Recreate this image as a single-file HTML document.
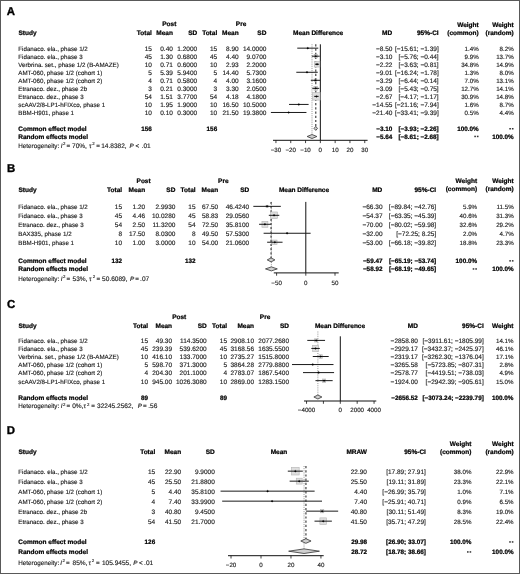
<!DOCTYPE html>
<html><head><meta charset="utf-8"><style>
html,body{margin:0;padding:0;background:#fff;}
body{width:520px;height:574px;overflow:hidden;position:relative;}
svg{position:absolute;left:0;top:0;display:block;will-change:transform;}
svg text{font-family:"Liberation Sans",sans-serif;text-rendering:geometricPrecision;}
</style></head><body>
<svg width="520" height="574" viewBox="0 0 520 574">
<rect x="0.5" y="0.5" width="519" height="573" fill="#fff" stroke="#595959" stroke-width="1"/>
<text x="6.80" y="14.70" text-anchor="start" font-size="11.4" font-weight="bold" fill="#000" stroke="#000" stroke-width="0.35">A</text>
<text x="169.30" y="26.00" text-anchor="middle" font-size="6.5" font-weight="bold" fill="#000" stroke="#000" stroke-width="0.22">Post</text>
<text x="241.10" y="26.00" text-anchor="middle" font-size="6.5" font-weight="bold" fill="#000" stroke="#000" stroke-width="0.22">Pre</text>
<text x="18.50" y="34.80" text-anchor="start" font-size="6.5" font-weight="bold" fill="#000" stroke="#000" stroke-width="0.22">Study</text>
<text x="151.90" y="34.80" text-anchor="end" font-size="6.5" font-weight="bold" fill="#000" stroke="#000" stroke-width="0.22">Total</text>
<text x="172.90" y="34.80" text-anchor="end" font-size="6.5" font-weight="bold" fill="#000" stroke="#000" stroke-width="0.22">Mean</text>
<text x="197.20" y="34.80" text-anchor="end" font-size="6.5" font-weight="bold" fill="#000" stroke="#000" stroke-width="0.22">SD</text>
<text x="217.20" y="34.80" text-anchor="end" font-size="6.5" font-weight="bold" fill="#000" stroke="#000" stroke-width="0.22">Total</text>
<text x="238.70" y="34.80" text-anchor="end" font-size="6.5" font-weight="bold" fill="#000" stroke="#000" stroke-width="0.22">Mean</text>
<text x="266.40" y="34.80" text-anchor="end" font-size="6.5" font-weight="bold" fill="#000" stroke="#000" stroke-width="0.22">SD</text>
<text x="318.10" y="34.80" text-anchor="middle" font-size="6.5" font-weight="bold" fill="#000" stroke="#000" stroke-width="0.22">Mean Difference</text>
<text x="392.20" y="34.80" text-anchor="end" font-size="6.5" font-weight="bold" fill="#000" stroke="#000" stroke-width="0.22">MD</text>
<text x="438.70" y="34.80" text-anchor="end" font-size="6.5" font-weight="bold" fill="#000" stroke="#000" stroke-width="0.22">95%-CI</text>
<text x="478.70" y="26.60" text-anchor="end" font-size="6.5" font-weight="bold" fill="#000" stroke="#000" stroke-width="0.22">Weight</text>
<text x="478.70" y="34.80" text-anchor="end" font-size="6.5" font-weight="bold" fill="#000" stroke="#000" stroke-width="0.22">(common)</text>
<text x="513.70" y="26.60" text-anchor="end" font-size="6.5" font-weight="bold" fill="#000" stroke="#000" stroke-width="0.22">Weight</text>
<text x="513.70" y="34.80" text-anchor="end" font-size="6.5" font-weight="bold" fill="#000" stroke="#000" stroke-width="0.22">(random)</text>
<text x="18.30" y="50.80" text-anchor="start" font-size="6.2" font-weight="normal" fill="#1a1a1a" stroke="#1a1a1a" stroke-width="0.14">Fidanaco. ela., phase 1/2</text>
<text x="151.90" y="50.80" text-anchor="end" font-size="6.5" font-weight="normal" fill="#1a1a1a" stroke="#1a1a1a" stroke-width="0.14">15</text>
<text x="172.90" y="50.80" text-anchor="end" font-size="6.5" font-weight="normal" fill="#1a1a1a" stroke="#1a1a1a" stroke-width="0.14">0.40</text>
<text x="197.20" y="50.80" text-anchor="end" font-size="6.5" font-weight="normal" fill="#1a1a1a" stroke="#1a1a1a" stroke-width="0.14">1.2000</text>
<text x="217.20" y="50.80" text-anchor="end" font-size="6.5" font-weight="normal" fill="#1a1a1a" stroke="#1a1a1a" stroke-width="0.14">15</text>
<text x="238.70" y="50.80" text-anchor="end" font-size="6.5" font-weight="normal" fill="#1a1a1a" stroke="#1a1a1a" stroke-width="0.14">8.90</text>
<text x="266.40" y="50.80" text-anchor="end" font-size="6.5" font-weight="normal" fill="#1a1a1a" stroke="#1a1a1a" stroke-width="0.14">14.0000</text>
<text x="392.40" y="50.80" text-anchor="end" font-size="6.5" font-weight="normal" fill="#1a1a1a" stroke="#1a1a1a" stroke-width="0.14">−8.50</text>
<text x="438.70" y="50.80" text-anchor="end" font-size="6.5" font-weight="normal" fill="#1a1a1a" stroke="#1a1a1a" stroke-width="0.14">[−15.61; −1.39]</text>
<text x="478.70" y="50.80" text-anchor="end" font-size="6.2" font-weight="normal" fill="#1a1a1a" stroke="#1a1a1a" stroke-width="0.14">1.4%</text>
<text x="513.70" y="50.80" text-anchor="end" font-size="6.2" font-weight="normal" fill="#1a1a1a" stroke="#1a1a1a" stroke-width="0.14">8.2%</text>
<text x="18.30" y="58.79" text-anchor="start" font-size="6.2" font-weight="normal" fill="#1a1a1a" stroke="#1a1a1a" stroke-width="0.14">Fidanaco. ela., phase 3</text>
<text x="151.90" y="58.79" text-anchor="end" font-size="6.5" font-weight="normal" fill="#1a1a1a" stroke="#1a1a1a" stroke-width="0.14">45</text>
<text x="172.90" y="58.79" text-anchor="end" font-size="6.5" font-weight="normal" fill="#1a1a1a" stroke="#1a1a1a" stroke-width="0.14">1.30</text>
<text x="197.20" y="58.79" text-anchor="end" font-size="6.5" font-weight="normal" fill="#1a1a1a" stroke="#1a1a1a" stroke-width="0.14">0.6800</text>
<text x="217.20" y="58.79" text-anchor="end" font-size="6.5" font-weight="normal" fill="#1a1a1a" stroke="#1a1a1a" stroke-width="0.14">45</text>
<text x="238.70" y="58.79" text-anchor="end" font-size="6.5" font-weight="normal" fill="#1a1a1a" stroke="#1a1a1a" stroke-width="0.14">4.40</text>
<text x="266.40" y="58.79" text-anchor="end" font-size="6.5" font-weight="normal" fill="#1a1a1a" stroke="#1a1a1a" stroke-width="0.14">9.0700</text>
<text x="392.40" y="58.79" text-anchor="end" font-size="6.5" font-weight="normal" fill="#1a1a1a" stroke="#1a1a1a" stroke-width="0.14">−3.10</text>
<text x="438.70" y="58.79" text-anchor="end" font-size="6.5" font-weight="normal" fill="#1a1a1a" stroke="#1a1a1a" stroke-width="0.14">[−5.76; −0.44]</text>
<text x="478.70" y="58.79" text-anchor="end" font-size="6.2" font-weight="normal" fill="#1a1a1a" stroke="#1a1a1a" stroke-width="0.14">9.9%</text>
<text x="513.70" y="58.79" text-anchor="end" font-size="6.2" font-weight="normal" fill="#1a1a1a" stroke="#1a1a1a" stroke-width="0.14">13.7%</text>
<text x="18.30" y="66.78" text-anchor="start" font-size="6.2" font-weight="normal" fill="#1a1a1a" stroke="#1a1a1a" stroke-width="0.14">Verbrina. set., phase 1/2 (B-AMAZE)</text>
<text x="151.90" y="66.78" text-anchor="end" font-size="6.5" font-weight="normal" fill="#1a1a1a" stroke="#1a1a1a" stroke-width="0.14">10</text>
<text x="172.90" y="66.78" text-anchor="end" font-size="6.5" font-weight="normal" fill="#1a1a1a" stroke="#1a1a1a" stroke-width="0.14">0.71</text>
<text x="197.20" y="66.78" text-anchor="end" font-size="6.5" font-weight="normal" fill="#1a1a1a" stroke="#1a1a1a" stroke-width="0.14">0.6000</text>
<text x="217.20" y="66.78" text-anchor="end" font-size="6.5" font-weight="normal" fill="#1a1a1a" stroke="#1a1a1a" stroke-width="0.14">10</text>
<text x="238.70" y="66.78" text-anchor="end" font-size="6.5" font-weight="normal" fill="#1a1a1a" stroke="#1a1a1a" stroke-width="0.14">2.93</text>
<text x="266.40" y="66.78" text-anchor="end" font-size="6.5" font-weight="normal" fill="#1a1a1a" stroke="#1a1a1a" stroke-width="0.14">2.2000</text>
<text x="392.40" y="66.78" text-anchor="end" font-size="6.5" font-weight="normal" fill="#1a1a1a" stroke="#1a1a1a" stroke-width="0.14">−2.22</text>
<text x="438.70" y="66.78" text-anchor="end" font-size="6.5" font-weight="normal" fill="#1a1a1a" stroke="#1a1a1a" stroke-width="0.14">[−3.63; −0.81]</text>
<text x="478.70" y="66.78" text-anchor="end" font-size="6.2" font-weight="normal" fill="#1a1a1a" stroke="#1a1a1a" stroke-width="0.14">34.8%</text>
<text x="513.70" y="66.78" text-anchor="end" font-size="6.2" font-weight="normal" fill="#1a1a1a" stroke="#1a1a1a" stroke-width="0.14">14.9%</text>
<text x="18.30" y="74.77" text-anchor="start" font-size="6.2" font-weight="normal" fill="#1a1a1a" stroke="#1a1a1a" stroke-width="0.14">AMT-060, phase 1/2 (cohort 1)</text>
<text x="151.90" y="74.77" text-anchor="end" font-size="6.5" font-weight="normal" fill="#1a1a1a" stroke="#1a1a1a" stroke-width="0.14">5</text>
<text x="172.90" y="74.77" text-anchor="end" font-size="6.5" font-weight="normal" fill="#1a1a1a" stroke="#1a1a1a" stroke-width="0.14">5.39</text>
<text x="197.20" y="74.77" text-anchor="end" font-size="6.5" font-weight="normal" fill="#1a1a1a" stroke="#1a1a1a" stroke-width="0.14">5.9400</text>
<text x="217.20" y="74.77" text-anchor="end" font-size="6.5" font-weight="normal" fill="#1a1a1a" stroke="#1a1a1a" stroke-width="0.14">5</text>
<text x="238.70" y="74.77" text-anchor="end" font-size="6.5" font-weight="normal" fill="#1a1a1a" stroke="#1a1a1a" stroke-width="0.14">14.40</text>
<text x="266.40" y="74.77" text-anchor="end" font-size="6.5" font-weight="normal" fill="#1a1a1a" stroke="#1a1a1a" stroke-width="0.14">5.7300</text>
<text x="392.40" y="74.77" text-anchor="end" font-size="6.5" font-weight="normal" fill="#1a1a1a" stroke="#1a1a1a" stroke-width="0.14">−9.01</text>
<text x="438.70" y="74.77" text-anchor="end" font-size="6.5" font-weight="normal" fill="#1a1a1a" stroke="#1a1a1a" stroke-width="0.14">[−16.24; −1.78]</text>
<text x="478.70" y="74.77" text-anchor="end" font-size="6.2" font-weight="normal" fill="#1a1a1a" stroke="#1a1a1a" stroke-width="0.14">1.3%</text>
<text x="513.70" y="74.77" text-anchor="end" font-size="6.2" font-weight="normal" fill="#1a1a1a" stroke="#1a1a1a" stroke-width="0.14">8.0%</text>
<text x="18.30" y="82.76" text-anchor="start" font-size="6.2" font-weight="normal" fill="#1a1a1a" stroke="#1a1a1a" stroke-width="0.14">AMT-060, phase 1/2 (cohort 2)</text>
<text x="151.90" y="82.76" text-anchor="end" font-size="6.5" font-weight="normal" fill="#1a1a1a" stroke="#1a1a1a" stroke-width="0.14">4</text>
<text x="172.90" y="82.76" text-anchor="end" font-size="6.5" font-weight="normal" fill="#1a1a1a" stroke="#1a1a1a" stroke-width="0.14">0.71</text>
<text x="197.20" y="82.76" text-anchor="end" font-size="6.5" font-weight="normal" fill="#1a1a1a" stroke="#1a1a1a" stroke-width="0.14">0.5800</text>
<text x="217.20" y="82.76" text-anchor="end" font-size="6.5" font-weight="normal" fill="#1a1a1a" stroke="#1a1a1a" stroke-width="0.14">4</text>
<text x="238.70" y="82.76" text-anchor="end" font-size="6.5" font-weight="normal" fill="#1a1a1a" stroke="#1a1a1a" stroke-width="0.14">4.00</text>
<text x="266.40" y="82.76" text-anchor="end" font-size="6.5" font-weight="normal" fill="#1a1a1a" stroke="#1a1a1a" stroke-width="0.14">3.1600</text>
<text x="392.40" y="82.76" text-anchor="end" font-size="6.5" font-weight="normal" fill="#1a1a1a" stroke="#1a1a1a" stroke-width="0.14">−3.29</text>
<text x="438.70" y="82.76" text-anchor="end" font-size="6.5" font-weight="normal" fill="#1a1a1a" stroke="#1a1a1a" stroke-width="0.14">[−6.44; −0.14]</text>
<text x="478.70" y="82.76" text-anchor="end" font-size="6.2" font-weight="normal" fill="#1a1a1a" stroke="#1a1a1a" stroke-width="0.14">7.0%</text>
<text x="513.70" y="82.76" text-anchor="end" font-size="6.2" font-weight="normal" fill="#1a1a1a" stroke="#1a1a1a" stroke-width="0.14">13.1%</text>
<text x="18.30" y="90.75" text-anchor="start" font-size="6.2" font-weight="normal" fill="#1a1a1a" stroke="#1a1a1a" stroke-width="0.14">Etranaco. dez., phase 2b</text>
<text x="151.90" y="90.75" text-anchor="end" font-size="6.5" font-weight="normal" fill="#1a1a1a" stroke="#1a1a1a" stroke-width="0.14">3</text>
<text x="172.90" y="90.75" text-anchor="end" font-size="6.5" font-weight="normal" fill="#1a1a1a" stroke="#1a1a1a" stroke-width="0.14">0.21</text>
<text x="197.20" y="90.75" text-anchor="end" font-size="6.5" font-weight="normal" fill="#1a1a1a" stroke="#1a1a1a" stroke-width="0.14">0.3000</text>
<text x="217.20" y="90.75" text-anchor="end" font-size="6.5" font-weight="normal" fill="#1a1a1a" stroke="#1a1a1a" stroke-width="0.14">3</text>
<text x="238.70" y="90.75" text-anchor="end" font-size="6.5" font-weight="normal" fill="#1a1a1a" stroke="#1a1a1a" stroke-width="0.14">3.30</text>
<text x="266.40" y="90.75" text-anchor="end" font-size="6.5" font-weight="normal" fill="#1a1a1a" stroke="#1a1a1a" stroke-width="0.14">2.0500</text>
<text x="392.40" y="90.75" text-anchor="end" font-size="6.5" font-weight="normal" fill="#1a1a1a" stroke="#1a1a1a" stroke-width="0.14">−3.09</text>
<text x="438.70" y="90.75" text-anchor="end" font-size="6.5" font-weight="normal" fill="#1a1a1a" stroke="#1a1a1a" stroke-width="0.14">[−5.43; −0.75]</text>
<text x="478.70" y="90.75" text-anchor="end" font-size="6.2" font-weight="normal" fill="#1a1a1a" stroke="#1a1a1a" stroke-width="0.14">12.7%</text>
<text x="513.70" y="90.75" text-anchor="end" font-size="6.2" font-weight="normal" fill="#1a1a1a" stroke="#1a1a1a" stroke-width="0.14">14.1%</text>
<text x="18.30" y="98.74" text-anchor="start" font-size="6.2" font-weight="normal" fill="#1a1a1a" stroke="#1a1a1a" stroke-width="0.14">Etranaco. dez., phase 3</text>
<text x="151.90" y="98.74" text-anchor="end" font-size="6.5" font-weight="normal" fill="#1a1a1a" stroke="#1a1a1a" stroke-width="0.14">54</text>
<text x="172.90" y="98.74" text-anchor="end" font-size="6.5" font-weight="normal" fill="#1a1a1a" stroke="#1a1a1a" stroke-width="0.14">1.51</text>
<text x="197.20" y="98.74" text-anchor="end" font-size="6.5" font-weight="normal" fill="#1a1a1a" stroke="#1a1a1a" stroke-width="0.14">3.7700</text>
<text x="217.20" y="98.74" text-anchor="end" font-size="6.5" font-weight="normal" fill="#1a1a1a" stroke="#1a1a1a" stroke-width="0.14">54</text>
<text x="238.70" y="98.74" text-anchor="end" font-size="6.5" font-weight="normal" fill="#1a1a1a" stroke="#1a1a1a" stroke-width="0.14">4.18</text>
<text x="266.40" y="98.74" text-anchor="end" font-size="6.5" font-weight="normal" fill="#1a1a1a" stroke="#1a1a1a" stroke-width="0.14">4.1800</text>
<text x="392.40" y="98.74" text-anchor="end" font-size="6.5" font-weight="normal" fill="#1a1a1a" stroke="#1a1a1a" stroke-width="0.14">−2.67</text>
<text x="438.70" y="98.74" text-anchor="end" font-size="6.5" font-weight="normal" fill="#1a1a1a" stroke="#1a1a1a" stroke-width="0.14">[−4.17; −1.17]</text>
<text x="478.70" y="98.74" text-anchor="end" font-size="6.2" font-weight="normal" fill="#1a1a1a" stroke="#1a1a1a" stroke-width="0.14">30.9%</text>
<text x="513.70" y="98.74" text-anchor="end" font-size="6.2" font-weight="normal" fill="#1a1a1a" stroke="#1a1a1a" stroke-width="0.14">14.8%</text>
<text x="18.30" y="106.73" text-anchor="start" font-size="6.2" font-weight="normal" fill="#1a1a1a" stroke="#1a1a1a" stroke-width="0.14">scAAV2/8-LP1-hFIXco, phase 1</text>
<text x="151.90" y="106.73" text-anchor="end" font-size="6.5" font-weight="normal" fill="#1a1a1a" stroke="#1a1a1a" stroke-width="0.14">10</text>
<text x="172.90" y="106.73" text-anchor="end" font-size="6.5" font-weight="normal" fill="#1a1a1a" stroke="#1a1a1a" stroke-width="0.14">1.95</text>
<text x="197.20" y="106.73" text-anchor="end" font-size="6.5" font-weight="normal" fill="#1a1a1a" stroke="#1a1a1a" stroke-width="0.14">1.9000</text>
<text x="217.20" y="106.73" text-anchor="end" font-size="6.5" font-weight="normal" fill="#1a1a1a" stroke="#1a1a1a" stroke-width="0.14">10</text>
<text x="238.70" y="106.73" text-anchor="end" font-size="6.5" font-weight="normal" fill="#1a1a1a" stroke="#1a1a1a" stroke-width="0.14">16.50</text>
<text x="266.40" y="106.73" text-anchor="end" font-size="6.5" font-weight="normal" fill="#1a1a1a" stroke="#1a1a1a" stroke-width="0.14">10.5000</text>
<text x="392.40" y="106.73" text-anchor="end" font-size="6.5" font-weight="normal" fill="#1a1a1a" stroke="#1a1a1a" stroke-width="0.14">−14.55</text>
<text x="438.70" y="106.73" text-anchor="end" font-size="6.5" font-weight="normal" fill="#1a1a1a" stroke="#1a1a1a" stroke-width="0.14">[−21.16; −7.94]</text>
<text x="478.70" y="106.73" text-anchor="end" font-size="6.2" font-weight="normal" fill="#1a1a1a" stroke="#1a1a1a" stroke-width="0.14">1.6%</text>
<text x="513.70" y="106.73" text-anchor="end" font-size="6.2" font-weight="normal" fill="#1a1a1a" stroke="#1a1a1a" stroke-width="0.14">8.7%</text>
<text x="18.30" y="114.72" text-anchor="start" font-size="6.2" font-weight="normal" fill="#1a1a1a" stroke="#1a1a1a" stroke-width="0.14">BBM-H901, phase 1</text>
<text x="151.90" y="114.72" text-anchor="end" font-size="6.5" font-weight="normal" fill="#1a1a1a" stroke="#1a1a1a" stroke-width="0.14">10</text>
<text x="172.90" y="114.72" text-anchor="end" font-size="6.5" font-weight="normal" fill="#1a1a1a" stroke="#1a1a1a" stroke-width="0.14">0.10</text>
<text x="197.20" y="114.72" text-anchor="end" font-size="6.5" font-weight="normal" fill="#1a1a1a" stroke="#1a1a1a" stroke-width="0.14">0.3000</text>
<text x="217.20" y="114.72" text-anchor="end" font-size="6.5" font-weight="normal" fill="#1a1a1a" stroke="#1a1a1a" stroke-width="0.14">10</text>
<text x="238.70" y="114.72" text-anchor="end" font-size="6.5" font-weight="normal" fill="#1a1a1a" stroke="#1a1a1a" stroke-width="0.14">21.50</text>
<text x="266.40" y="114.72" text-anchor="end" font-size="6.5" font-weight="normal" fill="#1a1a1a" stroke="#1a1a1a" stroke-width="0.14">19.3800</text>
<text x="392.40" y="114.72" text-anchor="end" font-size="6.5" font-weight="normal" fill="#1a1a1a" stroke="#1a1a1a" stroke-width="0.14">−21.40</text>
<text x="438.70" y="114.72" text-anchor="end" font-size="6.5" font-weight="normal" fill="#1a1a1a" stroke="#1a1a1a" stroke-width="0.14">[−33.41; −9.39]</text>
<text x="478.70" y="114.72" text-anchor="end" font-size="6.2" font-weight="normal" fill="#1a1a1a" stroke="#1a1a1a" stroke-width="0.14">0.5%</text>
<text x="513.70" y="114.72" text-anchor="end" font-size="6.2" font-weight="normal" fill="#1a1a1a" stroke="#1a1a1a" stroke-width="0.14">4.4%</text>
<text x="18.30" y="130.80" text-anchor="start" font-size="6.5" font-weight="bold" fill="#000" stroke="#000" stroke-width="0.22">Common effect model</text>
<text x="151.90" y="130.80" text-anchor="end" font-size="6.35" font-weight="bold" fill="#000" stroke="#000" stroke-width="0.22">156</text>
<text x="217.20" y="130.80" text-anchor="end" font-size="6.35" font-weight="bold" fill="#000" stroke="#000" stroke-width="0.22">156</text>
<text x="392.40" y="130.80" text-anchor="end" font-size="6.35" font-weight="bold" fill="#000" stroke="#000" stroke-width="0.22">−3.10</text>
<text x="438.70" y="130.80" text-anchor="end" font-size="6.35" font-weight="bold" fill="#000" stroke="#000" stroke-width="0.22">[−3.93; −2.26]</text>
<text x="478.70" y="130.80" text-anchor="end" font-size="6.35" font-weight="bold" fill="#000" stroke="#000" stroke-width="0.22">100.0%</text>
<rect x="509.30" y="128.00" width="1.6" height="1.5" fill="#333"/>
<rect x="511.90" y="128.00" width="1.6" height="1.5" fill="#333"/>
<text x="18.30" y="138.50" text-anchor="start" font-size="6.5" font-weight="bold" fill="#000" stroke="#000" stroke-width="0.22">Random effects model</text>
<text x="392.40" y="138.50" text-anchor="end" font-size="6.35" font-weight="bold" fill="#000" stroke="#000" stroke-width="0.22">−5.64</text>
<text x="438.70" y="138.50" text-anchor="end" font-size="6.35" font-weight="bold" fill="#000" stroke="#000" stroke-width="0.22">[−8.61; −2.68]</text>
<rect x="474.30" y="135.70" width="1.6" height="1.5" fill="#333"/>
<rect x="476.90" y="135.70" width="1.6" height="1.5" fill="#333"/>
<text x="513.70" y="138.50" text-anchor="end" font-size="6.35" font-weight="bold" fill="#000" stroke="#000" stroke-width="0.22">100.0%</text>
<text x="18.30" y="147.60" font-size="6.3" fill="#1a1a1a" stroke="#1a1a1a" stroke-width="0.14">Heterogeneity:</text>
<text x="60.80" y="147.60" font-size="6.3" fill="#1a1a1a" stroke="#1a1a1a" stroke-width="0.14" font-style="italic">I</text>
<text x="63.00" y="145.10" font-size="4.3" fill="#1a1a1a" stroke="#1a1a1a" stroke-width="0.14">2</text>
<text x="66.50" y="147.60" font-size="6.3" fill="#1a1a1a" stroke="#1a1a1a" stroke-width="0.14">=</text>
<text x="72.00" y="147.60" font-size="6.55" fill="#1a1a1a" stroke="#1a1a1a" stroke-width="0.14">70%,</text>
<text x="89.00" y="147.60" font-size="6.3" fill="#1a1a1a" stroke="#1a1a1a" stroke-width="0.14">τ</text>
<text x="92.30" y="145.10" font-size="4.3" fill="#1a1a1a" stroke="#1a1a1a" stroke-width="0.14">2</text>
<text x="96.20" y="147.60" font-size="6.3" fill="#1a1a1a" stroke="#1a1a1a" stroke-width="0.14">=</text>
<text x="101.20" y="147.60" font-size="6.55" fill="#1a1a1a" stroke="#1a1a1a" stroke-width="0.14">14.8382,</text>
<text x="129.60" y="147.60" font-size="6.3" fill="#1a1a1a" stroke="#1a1a1a" stroke-width="0.14" font-style="italic">P</text>
<text x="135.60" y="147.60" font-size="6.3" fill="#1a1a1a" stroke="#1a1a1a" stroke-width="0.14">&lt;</text>
<text x="141.60" y="147.60" font-size="6.55" fill="#1a1a1a" stroke="#1a1a1a" stroke-width="0.14">.01</text>
<line x1="320.35" y1="44.30" x2="320.35" y2="140.30" stroke="#111" stroke-width="1.0"/>
<line x1="312.00" y1="44.30" x2="312.00" y2="134.50" stroke="#8a8a8a" stroke-width="0.9" stroke-dasharray="1 1.15"/>
<line x1="315.76" y1="44.30" x2="315.76" y2="126.60" stroke="#4a4a4a" stroke-width="1.25" stroke-dasharray="2.2 2.0"/>
<rect x="307.35" y="47.73" width="0.84" height="0.84" fill="#dedede" stroke="#b4b4b4" stroke-width="0.6"/>
<line x1="297.25" y1="48.15" x2="318.29" y2="48.15" stroke="#1a1a1a" stroke-width="1.0"/>
<polygon points="306.67,48.15 307.77,47.15 308.87,48.15 307.77,49.15" fill="#000" stroke="#000" stroke-width="0.2"/>
<rect x="314.14" y="54.57" width="3.24" height="3.24" fill="#dedede" stroke="#b4b4b4" stroke-width="0.6"/>
<line x1="311.83" y1="56.19" x2="319.70" y2="56.19" stroke="#1a1a1a" stroke-width="1.0"/>
<polygon points="314.66,56.19 315.76,55.19 316.86,56.19 315.76,57.19" fill="#000" stroke="#000" stroke-width="0.2"/>
<rect x="314.26" y="61.43" width="5.60" height="5.60" fill="#dedede" stroke="#b4b4b4" stroke-width="0.6"/>
<line x1="314.98" y1="64.23" x2="319.15" y2="64.23" stroke="#1a1a1a" stroke-width="1.0"/>
<polygon points="315.96,64.23 317.06,63.23 318.16,64.23 317.06,65.23" fill="#000" stroke="#000" stroke-width="0.2"/>
<rect x="306.62" y="71.87" width="0.79" height="0.79" fill="#dedede" stroke="#b4b4b4" stroke-width="0.6"/>
<line x1="296.31" y1="72.27" x2="317.72" y2="72.27" stroke="#1a1a1a" stroke-width="1.0"/>
<polygon points="305.92,72.27 307.02,71.27 308.12,72.27 307.02,73.27" fill="#000" stroke="#000" stroke-width="0.2"/>
<rect x="314.17" y="79.00" width="2.63" height="2.63" fill="#dedede" stroke="#b4b4b4" stroke-width="0.6"/>
<line x1="310.82" y1="80.31" x2="320.14" y2="80.31" stroke="#1a1a1a" stroke-width="1.0"/>
<polygon points="314.38,80.31 315.48,79.31 316.58,80.31 315.48,81.31" fill="#000" stroke="#000" stroke-width="0.2"/>
<rect x="313.90" y="86.48" width="3.75" height="3.75" fill="#dedede" stroke="#b4b4b4" stroke-width="0.6"/>
<line x1="312.31" y1="88.35" x2="319.24" y2="88.35" stroke="#1a1a1a" stroke-width="1.0"/>
<polygon points="314.68,88.35 315.78,87.35 316.88,88.35 315.78,89.35" fill="#000" stroke="#000" stroke-width="0.2"/>
<rect x="312.70" y="92.69" width="7.40" height="7.40" fill="#dedede" stroke="#b4b4b4" stroke-width="0.6"/>
<line x1="314.18" y1="96.39" x2="318.62" y2="96.39" stroke="#1a1a1a" stroke-width="1.0"/>
<polygon points="315.30,96.39 316.40,95.39 317.50,96.39 316.40,97.39" fill="#000" stroke="#000" stroke-width="0.2"/>
<rect x="298.34" y="103.96" width="0.94" height="0.94" fill="#dedede" stroke="#b4b4b4" stroke-width="0.6"/>
<line x1="289.03" y1="104.43" x2="308.60" y2="104.43" stroke="#1a1a1a" stroke-width="1.0"/>
<polygon points="297.72,104.43 298.82,103.43 299.92,104.43 298.82,105.43" fill="#000" stroke="#000" stroke-width="0.2"/>
<rect x="288.55" y="112.34" width="0.26" height="0.26" fill="#dedede" stroke="#b4b4b4" stroke-width="0.6"/>
<line x1="270.90" y1="112.47" x2="306.45" y2="112.47" stroke="#1a1a1a" stroke-width="1.0"/>
<polygon points="287.58,112.47 288.68,111.47 289.78,112.47 288.68,113.47" fill="#000" stroke="#000" stroke-width="0.2"/>
<polygon points="314.03,128.40 315.76,126.40 317.51,128.40 315.76,130.40" fill="#d0d0d0" stroke="#333" stroke-width="0.8"/>
<polygon points="307.11,136.50 312.00,134.50 316.88,136.50 312.00,138.50" fill="#d0d0d0" stroke="#333" stroke-width="0.8"/>
<line x1="273.00" y1="140.30" x2="367.60" y2="140.30" stroke="#111" stroke-width="1.0"/>
<line x1="275.95" y1="140.30" x2="275.95" y2="143.10" stroke="#111" stroke-width="0.8"/>
<text x="275.95" y="151.70" text-anchor="middle" font-size="6.2" font-weight="normal" fill="#1a1a1a" stroke="#1a1a1a" stroke-width="0.14">−30</text>
<line x1="290.75" y1="140.30" x2="290.75" y2="143.10" stroke="#111" stroke-width="0.8"/>
<text x="290.75" y="151.70" text-anchor="middle" font-size="6.2" font-weight="normal" fill="#1a1a1a" stroke="#1a1a1a" stroke-width="0.14">−20</text>
<line x1="305.55" y1="140.30" x2="305.55" y2="143.10" stroke="#111" stroke-width="0.8"/>
<text x="305.55" y="151.70" text-anchor="middle" font-size="6.2" font-weight="normal" fill="#1a1a1a" stroke="#1a1a1a" stroke-width="0.14">−10</text>
<line x1="320.35" y1="140.30" x2="320.35" y2="143.10" stroke="#111" stroke-width="0.8"/>
<text x="320.35" y="151.70" text-anchor="middle" font-size="6.2" font-weight="normal" fill="#1a1a1a" stroke="#1a1a1a" stroke-width="0.14">0</text>
<line x1="335.15" y1="140.30" x2="335.15" y2="143.10" stroke="#111" stroke-width="0.8"/>
<text x="335.15" y="151.70" text-anchor="middle" font-size="6.2" font-weight="normal" fill="#1a1a1a" stroke="#1a1a1a" stroke-width="0.14">10</text>
<line x1="349.95" y1="140.30" x2="349.95" y2="143.10" stroke="#111" stroke-width="0.8"/>
<text x="349.95" y="151.70" text-anchor="middle" font-size="6.2" font-weight="normal" fill="#1a1a1a" stroke="#1a1a1a" stroke-width="0.14">20</text>
<line x1="364.75" y1="140.30" x2="364.75" y2="143.10" stroke="#111" stroke-width="0.8"/>
<text x="364.75" y="151.70" text-anchor="middle" font-size="6.2" font-weight="normal" fill="#1a1a1a" stroke="#1a1a1a" stroke-width="0.14">30</text>
<text x="7.00" y="171.90" text-anchor="start" font-size="11.4" font-weight="bold" fill="#000" stroke="#000" stroke-width="0.35">B</text>
<text x="143.60" y="182.90" text-anchor="middle" font-size="6.5" font-weight="bold" fill="#000" stroke="#000" stroke-width="0.22">Post</text>
<text x="223.30" y="182.90" text-anchor="middle" font-size="6.5" font-weight="bold" fill="#000" stroke="#000" stroke-width="0.22">Pre</text>
<text x="18.50" y="191.60" text-anchor="start" font-size="6.5" font-weight="bold" fill="#000" stroke="#000" stroke-width="0.22">Study</text>
<text x="122.10" y="191.60" text-anchor="end" font-size="6.5" font-weight="bold" fill="#000" stroke="#000" stroke-width="0.22">Total</text>
<text x="145.20" y="191.60" text-anchor="end" font-size="6.5" font-weight="bold" fill="#000" stroke="#000" stroke-width="0.22">Mean</text>
<text x="175.40" y="191.60" text-anchor="end" font-size="6.5" font-weight="bold" fill="#000" stroke="#000" stroke-width="0.22">SD</text>
<text x="195.60" y="191.60" text-anchor="end" font-size="6.5" font-weight="bold" fill="#000" stroke="#000" stroke-width="0.22">Total</text>
<text x="218.20" y="191.60" text-anchor="end" font-size="6.5" font-weight="bold" fill="#000" stroke="#000" stroke-width="0.22">Mean</text>
<text x="249.20" y="191.60" text-anchor="end" font-size="6.5" font-weight="bold" fill="#000" stroke="#000" stroke-width="0.22">SD</text>
<text x="304.00" y="191.60" text-anchor="middle" font-size="6.5" font-weight="bold" fill="#000" stroke="#000" stroke-width="0.22">Mean Difference</text>
<text x="382.30" y="191.60" text-anchor="end" font-size="6.5" font-weight="bold" fill="#000" stroke="#000" stroke-width="0.22">MD</text>
<text x="436.20" y="191.60" text-anchor="end" font-size="6.5" font-weight="bold" fill="#000" stroke="#000" stroke-width="0.22">95%-CI</text>
<text x="477.10" y="183.40" text-anchor="end" font-size="6.5" font-weight="bold" fill="#000" stroke="#000" stroke-width="0.22">Weight</text>
<text x="477.10" y="191.40" text-anchor="end" font-size="6.5" font-weight="bold" fill="#000" stroke="#000" stroke-width="0.22">(common)</text>
<text x="513.70" y="183.40" text-anchor="end" font-size="6.5" font-weight="bold" fill="#000" stroke="#000" stroke-width="0.22">Weight</text>
<text x="513.70" y="191.40" text-anchor="end" font-size="6.5" font-weight="bold" fill="#000" stroke="#000" stroke-width="0.22">(random)</text>
<text x="18.30" y="209.00" text-anchor="start" font-size="6.2" font-weight="normal" fill="#1a1a1a" stroke="#1a1a1a" stroke-width="0.14">Fidanaco. ela., phase 1/2</text>
<text x="122.10" y="209.00" text-anchor="end" font-size="6.5" font-weight="normal" fill="#1a1a1a" stroke="#1a1a1a" stroke-width="0.14">15</text>
<text x="145.20" y="209.00" text-anchor="end" font-size="6.5" font-weight="normal" fill="#1a1a1a" stroke="#1a1a1a" stroke-width="0.14">1.20</text>
<text x="175.40" y="209.00" text-anchor="end" font-size="6.5" font-weight="normal" fill="#1a1a1a" stroke="#1a1a1a" stroke-width="0.14">2.9930</text>
<text x="195.60" y="209.00" text-anchor="end" font-size="6.5" font-weight="normal" fill="#1a1a1a" stroke="#1a1a1a" stroke-width="0.14">15</text>
<text x="218.20" y="209.00" text-anchor="end" font-size="6.5" font-weight="normal" fill="#1a1a1a" stroke="#1a1a1a" stroke-width="0.14">67.50</text>
<text x="249.20" y="209.00" text-anchor="end" font-size="6.5" font-weight="normal" fill="#1a1a1a" stroke="#1a1a1a" stroke-width="0.14">46.4240</text>
<text x="382.50" y="209.00" text-anchor="end" font-size="6.5" font-weight="normal" fill="#1a1a1a" stroke="#1a1a1a" stroke-width="0.14">−66.30</text>
<text x="436.20" y="209.00" text-anchor="end" font-size="6.5" font-weight="normal" fill="#1a1a1a" stroke="#1a1a1a" stroke-width="0.14">[−89.84; −42.76]</text>
<text x="477.10" y="209.00" text-anchor="end" font-size="6.2" font-weight="normal" fill="#1a1a1a" stroke="#1a1a1a" stroke-width="0.14">5.9%</text>
<text x="513.70" y="209.00" text-anchor="end" font-size="6.2" font-weight="normal" fill="#1a1a1a" stroke="#1a1a1a" stroke-width="0.14">11.5%</text>
<text x="18.30" y="217.97" text-anchor="start" font-size="6.2" font-weight="normal" fill="#1a1a1a" stroke="#1a1a1a" stroke-width="0.14">Fidanaco. ela., phase 3</text>
<text x="122.10" y="217.97" text-anchor="end" font-size="6.5" font-weight="normal" fill="#1a1a1a" stroke="#1a1a1a" stroke-width="0.14">45</text>
<text x="145.20" y="217.97" text-anchor="end" font-size="6.5" font-weight="normal" fill="#1a1a1a" stroke="#1a1a1a" stroke-width="0.14">4.46</text>
<text x="175.40" y="217.97" text-anchor="end" font-size="6.5" font-weight="normal" fill="#1a1a1a" stroke="#1a1a1a" stroke-width="0.14">10.0280</text>
<text x="195.60" y="217.97" text-anchor="end" font-size="6.5" font-weight="normal" fill="#1a1a1a" stroke="#1a1a1a" stroke-width="0.14">45</text>
<text x="218.20" y="217.97" text-anchor="end" font-size="6.5" font-weight="normal" fill="#1a1a1a" stroke="#1a1a1a" stroke-width="0.14">58.83</text>
<text x="249.20" y="217.97" text-anchor="end" font-size="6.5" font-weight="normal" fill="#1a1a1a" stroke="#1a1a1a" stroke-width="0.14">29.0560</text>
<text x="382.50" y="217.97" text-anchor="end" font-size="6.5" font-weight="normal" fill="#1a1a1a" stroke="#1a1a1a" stroke-width="0.14">−54.37</text>
<text x="436.20" y="217.97" text-anchor="end" font-size="6.5" font-weight="normal" fill="#1a1a1a" stroke="#1a1a1a" stroke-width="0.14">[−63.35; −45.39]</text>
<text x="477.10" y="217.97" text-anchor="end" font-size="6.2" font-weight="normal" fill="#1a1a1a" stroke="#1a1a1a" stroke-width="0.14">40.6%</text>
<text x="513.70" y="217.97" text-anchor="end" font-size="6.2" font-weight="normal" fill="#1a1a1a" stroke="#1a1a1a" stroke-width="0.14">31.3%</text>
<text x="18.30" y="226.94" text-anchor="start" font-size="6.2" font-weight="normal" fill="#1a1a1a" stroke="#1a1a1a" stroke-width="0.14">Etranaco. dez., phase 3</text>
<text x="122.10" y="226.94" text-anchor="end" font-size="6.5" font-weight="normal" fill="#1a1a1a" stroke="#1a1a1a" stroke-width="0.14">54</text>
<text x="145.20" y="226.94" text-anchor="end" font-size="6.5" font-weight="normal" fill="#1a1a1a" stroke="#1a1a1a" stroke-width="0.14">2.50</text>
<text x="175.40" y="226.94" text-anchor="end" font-size="6.5" font-weight="normal" fill="#1a1a1a" stroke="#1a1a1a" stroke-width="0.14">11.3200</text>
<text x="195.60" y="226.94" text-anchor="end" font-size="6.5" font-weight="normal" fill="#1a1a1a" stroke="#1a1a1a" stroke-width="0.14">54</text>
<text x="218.20" y="226.94" text-anchor="end" font-size="6.5" font-weight="normal" fill="#1a1a1a" stroke="#1a1a1a" stroke-width="0.14">72.50</text>
<text x="249.20" y="226.94" text-anchor="end" font-size="6.5" font-weight="normal" fill="#1a1a1a" stroke="#1a1a1a" stroke-width="0.14">35.8100</text>
<text x="382.50" y="226.94" text-anchor="end" font-size="6.5" font-weight="normal" fill="#1a1a1a" stroke="#1a1a1a" stroke-width="0.14">−70.00</text>
<text x="436.20" y="226.94" text-anchor="end" font-size="6.5" font-weight="normal" fill="#1a1a1a" stroke="#1a1a1a" stroke-width="0.14">[−80.02; −59.98]</text>
<text x="477.10" y="226.94" text-anchor="end" font-size="6.2" font-weight="normal" fill="#1a1a1a" stroke="#1a1a1a" stroke-width="0.14">32.6%</text>
<text x="513.70" y="226.94" text-anchor="end" font-size="6.2" font-weight="normal" fill="#1a1a1a" stroke="#1a1a1a" stroke-width="0.14">29.2%</text>
<text x="18.30" y="235.91" text-anchor="start" font-size="6.2" font-weight="normal" fill="#1a1a1a" stroke="#1a1a1a" stroke-width="0.14">BAX335, phase 1/2</text>
<text x="122.10" y="235.91" text-anchor="end" font-size="6.5" font-weight="normal" fill="#1a1a1a" stroke="#1a1a1a" stroke-width="0.14">8</text>
<text x="145.20" y="235.91" text-anchor="end" font-size="6.5" font-weight="normal" fill="#1a1a1a" stroke="#1a1a1a" stroke-width="0.14">17.50</text>
<text x="175.40" y="235.91" text-anchor="end" font-size="6.5" font-weight="normal" fill="#1a1a1a" stroke="#1a1a1a" stroke-width="0.14">8.0300</text>
<text x="195.60" y="235.91" text-anchor="end" font-size="6.5" font-weight="normal" fill="#1a1a1a" stroke="#1a1a1a" stroke-width="0.14">8</text>
<text x="218.20" y="235.91" text-anchor="end" font-size="6.5" font-weight="normal" fill="#1a1a1a" stroke="#1a1a1a" stroke-width="0.14">49.50</text>
<text x="249.20" y="235.91" text-anchor="end" font-size="6.5" font-weight="normal" fill="#1a1a1a" stroke="#1a1a1a" stroke-width="0.14">57.5300</text>
<text x="382.50" y="235.91" text-anchor="end" font-size="6.5" font-weight="normal" fill="#1a1a1a" stroke="#1a1a1a" stroke-width="0.14">−32.00</text>
<text x="436.20" y="235.91" text-anchor="end" font-size="6.5" font-weight="normal" fill="#1a1a1a" stroke="#1a1a1a" stroke-width="0.14">[−72.25; 8.25]</text>
<text x="477.10" y="235.91" text-anchor="end" font-size="6.2" font-weight="normal" fill="#1a1a1a" stroke="#1a1a1a" stroke-width="0.14">2.0%</text>
<text x="513.70" y="235.91" text-anchor="end" font-size="6.2" font-weight="normal" fill="#1a1a1a" stroke="#1a1a1a" stroke-width="0.14">4.7%</text>
<text x="18.30" y="244.88" text-anchor="start" font-size="6.2" font-weight="normal" fill="#1a1a1a" stroke="#1a1a1a" stroke-width="0.14">BBM-H901, phase 1</text>
<text x="122.10" y="244.88" text-anchor="end" font-size="6.5" font-weight="normal" fill="#1a1a1a" stroke="#1a1a1a" stroke-width="0.14">10</text>
<text x="145.20" y="244.88" text-anchor="end" font-size="6.5" font-weight="normal" fill="#1a1a1a" stroke="#1a1a1a" stroke-width="0.14">1.00</text>
<text x="175.40" y="244.88" text-anchor="end" font-size="6.5" font-weight="normal" fill="#1a1a1a" stroke="#1a1a1a" stroke-width="0.14">3.0000</text>
<text x="195.60" y="244.88" text-anchor="end" font-size="6.5" font-weight="normal" fill="#1a1a1a" stroke="#1a1a1a" stroke-width="0.14">10</text>
<text x="218.20" y="244.88" text-anchor="end" font-size="6.5" font-weight="normal" fill="#1a1a1a" stroke="#1a1a1a" stroke-width="0.14">54.00</text>
<text x="249.20" y="244.88" text-anchor="end" font-size="6.5" font-weight="normal" fill="#1a1a1a" stroke="#1a1a1a" stroke-width="0.14">21.0600</text>
<text x="382.50" y="244.88" text-anchor="end" font-size="6.5" font-weight="normal" fill="#1a1a1a" stroke="#1a1a1a" stroke-width="0.14">−53.00</text>
<text x="436.20" y="244.88" text-anchor="end" font-size="6.5" font-weight="normal" fill="#1a1a1a" stroke="#1a1a1a" stroke-width="0.14">[−66.18; −39.82]</text>
<text x="477.10" y="244.88" text-anchor="end" font-size="6.2" font-weight="normal" fill="#1a1a1a" stroke="#1a1a1a" stroke-width="0.14">18.8%</text>
<text x="513.70" y="244.88" text-anchor="end" font-size="6.2" font-weight="normal" fill="#1a1a1a" stroke="#1a1a1a" stroke-width="0.14">23.3%</text>
<text x="18.30" y="262.90" text-anchor="start" font-size="6.5" font-weight="bold" fill="#000" stroke="#000" stroke-width="0.22">Common effect model</text>
<text x="122.10" y="262.90" text-anchor="end" font-size="6.35" font-weight="bold" fill="#000" stroke="#000" stroke-width="0.22">132</text>
<text x="195.60" y="262.90" text-anchor="end" font-size="6.35" font-weight="bold" fill="#000" stroke="#000" stroke-width="0.22">132</text>
<text x="382.50" y="262.90" text-anchor="end" font-size="6.35" font-weight="bold" fill="#000" stroke="#000" stroke-width="0.22">−59.47</text>
<text x="436.20" y="262.90" text-anchor="end" font-size="6.35" font-weight="bold" fill="#000" stroke="#000" stroke-width="0.22">[−65.19; −53.74]</text>
<text x="477.10" y="262.90" text-anchor="end" font-size="6.35" font-weight="bold" fill="#000" stroke="#000" stroke-width="0.22">100.0%</text>
<rect x="509.30" y="260.10" width="1.6" height="1.5" fill="#333"/>
<rect x="511.90" y="260.10" width="1.6" height="1.5" fill="#333"/>
<text x="18.30" y="271.00" text-anchor="start" font-size="6.5" font-weight="bold" fill="#000" stroke="#000" stroke-width="0.22">Random effects model</text>
<text x="382.50" y="271.00" text-anchor="end" font-size="6.35" font-weight="bold" fill="#000" stroke="#000" stroke-width="0.22">−58.92</text>
<text x="436.20" y="271.00" text-anchor="end" font-size="6.35" font-weight="bold" fill="#000" stroke="#000" stroke-width="0.22">[−68.19; −49.65]</text>
<rect x="472.70" y="268.20" width="1.6" height="1.5" fill="#333"/>
<rect x="475.30" y="268.20" width="1.6" height="1.5" fill="#333"/>
<text x="513.70" y="271.00" text-anchor="end" font-size="6.35" font-weight="bold" fill="#000" stroke="#000" stroke-width="0.22">100.0%</text>
<text x="18.30" y="280.60" font-size="6.3" fill="#1a1a1a" stroke="#1a1a1a" stroke-width="0.14">Heterogeneity:</text>
<text x="60.80" y="280.60" font-size="6.3" fill="#1a1a1a" stroke="#1a1a1a" stroke-width="0.14" font-style="italic">I</text>
<text x="63.00" y="278.10" font-size="4.3" fill="#1a1a1a" stroke="#1a1a1a" stroke-width="0.14">2</text>
<text x="66.50" y="280.60" font-size="6.3" fill="#1a1a1a" stroke="#1a1a1a" stroke-width="0.14">=</text>
<text x="72.50" y="280.60" font-size="6.55" fill="#1a1a1a" stroke="#1a1a1a" stroke-width="0.14">53%,</text>
<text x="89.00" y="280.60" font-size="6.3" fill="#1a1a1a" stroke="#1a1a1a" stroke-width="0.14">τ</text>
<text x="92.70" y="278.10" font-size="4.3" fill="#1a1a1a" stroke="#1a1a1a" stroke-width="0.14">2</text>
<text x="96.60" y="280.60" font-size="6.3" fill="#1a1a1a" stroke="#1a1a1a" stroke-width="0.14">=</text>
<text x="102.10" y="280.60" font-size="6.55" fill="#1a1a1a" stroke="#1a1a1a" stroke-width="0.14">50.6089,</text>
<text x="130.00" y="280.60" font-size="6.3" fill="#1a1a1a" stroke="#1a1a1a" stroke-width="0.14" font-style="italic">P</text>
<text x="135.30" y="280.60" font-size="6.3" fill="#1a1a1a" stroke="#1a1a1a" stroke-width="0.14">=</text>
<text x="140.10" y="280.60" font-size="6.55" fill="#1a1a1a" stroke="#1a1a1a" stroke-width="0.14">.07</text>
<line x1="305.80" y1="201.90" x2="305.80" y2="272.90" stroke="#111" stroke-width="1.0"/>
<line x1="271.39" y1="201.90" x2="271.39" y2="266.90" stroke="#8a8a8a" stroke-width="0.9" stroke-dasharray="1 1.15"/>
<line x1="271.07" y1="201.90" x2="271.07" y2="258.10" stroke="#4a4a4a" stroke-width="1.25" stroke-dasharray="2.2 2.0"/>
<rect x="265.99" y="205.26" width="2.18" height="2.18" fill="#dedede" stroke="#b4b4b4" stroke-width="0.6"/>
<line x1="253.33" y1="206.35" x2="280.83" y2="206.35" stroke="#1a1a1a" stroke-width="1.0"/>
<polygon points="265.98,206.35 267.08,205.35 268.18,206.35 267.08,207.35" fill="#000" stroke="#000" stroke-width="0.2"/>
<rect x="270.70" y="211.97" width="6.70" height="6.70" fill="#dedede" stroke="#b4b4b4" stroke-width="0.6"/>
<line x1="268.80" y1="215.32" x2="279.29" y2="215.32" stroke="#1a1a1a" stroke-width="1.0"/>
<polygon points="272.95,215.32 274.05,214.32 275.15,215.32 274.05,216.32" fill="#000" stroke="#000" stroke-width="0.2"/>
<rect x="261.95" y="221.32" width="5.94" height="5.94" fill="#dedede" stroke="#b4b4b4" stroke-width="0.6"/>
<line x1="259.07" y1="224.29" x2="270.77" y2="224.29" stroke="#1a1a1a" stroke-width="1.0"/>
<polygon points="263.82,224.29 264.92,223.29 266.02,224.29 264.92,225.29" fill="#000" stroke="#000" stroke-width="0.2"/>
<rect x="286.60" y="232.75" width="1.02" height="1.02" fill="#dedede" stroke="#b4b4b4" stroke-width="0.6"/>
<line x1="263.61" y1="233.26" x2="310.62" y2="233.26" stroke="#1a1a1a" stroke-width="1.0"/>
<polygon points="286.01,233.26 287.11,232.26 288.21,233.26 287.11,234.26" fill="#000" stroke="#000" stroke-width="0.2"/>
<rect x="272.66" y="240.05" width="4.37" height="4.37" fill="#dedede" stroke="#b4b4b4" stroke-width="0.6"/>
<line x1="267.15" y1="242.23" x2="282.55" y2="242.23" stroke="#1a1a1a" stroke-width="1.0"/>
<polygon points="273.75,242.23 274.85,241.23 275.95,242.23 274.85,243.23" fill="#000" stroke="#000" stroke-width="0.2"/>
<polygon points="267.23,259.90 271.07,257.90 274.92,259.90 271.07,261.90" fill="#d0d0d0" stroke="#333" stroke-width="0.8"/>
<polygon points="265.48,268.90 271.39,266.90 277.30,268.90 271.39,270.90" fill="#d0d0d0" stroke="#333" stroke-width="0.8"/>
<line x1="273.80" y1="272.90" x2="338.70" y2="272.90" stroke="#111" stroke-width="1.0"/>
<line x1="276.60" y1="272.90" x2="276.60" y2="275.70" stroke="#111" stroke-width="0.8"/>
<text x="276.60" y="284.80" text-anchor="middle" font-size="6.2" font-weight="normal" fill="#1a1a1a" stroke="#1a1a1a" stroke-width="0.14">−50</text>
<line x1="305.80" y1="272.90" x2="305.80" y2="275.70" stroke="#111" stroke-width="0.8"/>
<text x="305.80" y="284.80" text-anchor="middle" font-size="6.2" font-weight="normal" fill="#1a1a1a" stroke="#1a1a1a" stroke-width="0.14">0</text>
<line x1="335.00" y1="272.90" x2="335.00" y2="275.70" stroke="#111" stroke-width="0.8"/>
<text x="335.00" y="284.80" text-anchor="middle" font-size="6.2" font-weight="normal" fill="#1a1a1a" stroke="#1a1a1a" stroke-width="0.14">50</text>
<text x="7.00" y="307.90" text-anchor="start" font-size="11.4" font-weight="bold" fill="#000" stroke="#000" stroke-width="0.35">C</text>
<text x="179.20" y="319.40" text-anchor="middle" font-size="6.5" font-weight="bold" fill="#000" stroke="#000" stroke-width="0.22">Post</text>
<text x="265.10" y="319.40" text-anchor="middle" font-size="6.5" font-weight="bold" fill="#000" stroke="#000" stroke-width="0.22">Pre</text>
<text x="18.50" y="327.60" text-anchor="start" font-size="6.5" font-weight="bold" fill="#000" stroke="#000" stroke-width="0.22">Study</text>
<text x="148.10" y="327.60" text-anchor="end" font-size="6.5" font-weight="bold" fill="#000" stroke="#000" stroke-width="0.22">Total</text>
<text x="172.10" y="327.60" text-anchor="end" font-size="6.5" font-weight="bold" fill="#000" stroke="#000" stroke-width="0.22">Mean</text>
<text x="206.70" y="327.60" text-anchor="end" font-size="6.5" font-weight="bold" fill="#000" stroke="#000" stroke-width="0.22">SD</text>
<text x="227.10" y="327.60" text-anchor="end" font-size="6.5" font-weight="bold" fill="#000" stroke="#000" stroke-width="0.22">Total</text>
<text x="254.00" y="327.60" text-anchor="end" font-size="6.5" font-weight="bold" fill="#000" stroke="#000" stroke-width="0.22">Mean</text>
<text x="289.00" y="327.60" text-anchor="end" font-size="6.5" font-weight="bold" fill="#000" stroke="#000" stroke-width="0.22">SD</text>
<text x="340.00" y="327.60" text-anchor="middle" font-size="6.5" font-weight="bold" fill="#000" stroke="#000" stroke-width="0.22">Mean Difference</text>
<text x="417.90" y="327.60" text-anchor="end" font-size="6.5" font-weight="bold" fill="#000" stroke="#000" stroke-width="0.22">MD</text>
<text x="483.80" y="327.60" text-anchor="end" font-size="6.5" font-weight="bold" fill="#000" stroke="#000" stroke-width="0.22">95%-CI</text>
<text x="513.50" y="327.60" text-anchor="end" font-size="6.5" font-weight="bold" fill="#000" stroke="#000" stroke-width="0.22">Weight</text>
<text x="18.30" y="342.60" text-anchor="start" font-size="6.2" font-weight="normal" fill="#1a1a1a" stroke="#1a1a1a" stroke-width="0.14">Fidanaco. ela., phase 1/2</text>
<text x="148.10" y="342.60" text-anchor="end" font-size="6.5" font-weight="normal" fill="#1a1a1a" stroke="#1a1a1a" stroke-width="0.14">15</text>
<text x="172.10" y="342.60" text-anchor="end" font-size="6.5" font-weight="normal" fill="#1a1a1a" stroke="#1a1a1a" stroke-width="0.14">49.30</text>
<text x="206.70" y="342.60" text-anchor="end" font-size="6.5" font-weight="normal" fill="#1a1a1a" stroke="#1a1a1a" stroke-width="0.14">114.3500</text>
<text x="227.10" y="342.60" text-anchor="end" font-size="6.5" font-weight="normal" fill="#1a1a1a" stroke="#1a1a1a" stroke-width="0.14">15</text>
<text x="254.00" y="342.60" text-anchor="end" font-size="6.5" font-weight="normal" fill="#1a1a1a" stroke="#1a1a1a" stroke-width="0.14">2908.10</text>
<text x="289.00" y="342.60" text-anchor="end" font-size="6.5" font-weight="normal" fill="#1a1a1a" stroke="#1a1a1a" stroke-width="0.14">2077.2680</text>
<text x="417.90" y="342.60" text-anchor="end" font-size="6.5" font-weight="normal" fill="#1a1a1a" stroke="#1a1a1a" stroke-width="0.14">−2858.80</text>
<text x="483.80" y="342.60" text-anchor="end" font-size="6.5" font-weight="normal" fill="#1a1a1a" stroke="#1a1a1a" stroke-width="0.14">[−3911.61; −1805.99]</text>
<text x="513.50" y="342.60" text-anchor="end" font-size="6.2" font-weight="normal" fill="#1a1a1a" stroke="#1a1a1a" stroke-width="0.14">14.1%</text>
<text x="18.30" y="350.80" text-anchor="start" font-size="6.2" font-weight="normal" fill="#1a1a1a" stroke="#1a1a1a" stroke-width="0.14">Fidanaco. ela., phase 3</text>
<text x="148.10" y="350.80" text-anchor="end" font-size="6.5" font-weight="normal" fill="#1a1a1a" stroke="#1a1a1a" stroke-width="0.14">45</text>
<text x="172.10" y="350.80" text-anchor="end" font-size="6.5" font-weight="normal" fill="#1a1a1a" stroke="#1a1a1a" stroke-width="0.14">239.39</text>
<text x="206.70" y="350.80" text-anchor="end" font-size="6.5" font-weight="normal" fill="#1a1a1a" stroke="#1a1a1a" stroke-width="0.14">539.6200</text>
<text x="227.10" y="350.80" text-anchor="end" font-size="6.5" font-weight="normal" fill="#1a1a1a" stroke="#1a1a1a" stroke-width="0.14">45</text>
<text x="254.00" y="350.80" text-anchor="end" font-size="6.5" font-weight="normal" fill="#1a1a1a" stroke="#1a1a1a" stroke-width="0.14">3168.56</text>
<text x="289.00" y="350.80" text-anchor="end" font-size="6.5" font-weight="normal" fill="#1a1a1a" stroke="#1a1a1a" stroke-width="0.14">1635.5500</text>
<text x="417.90" y="350.80" text-anchor="end" font-size="6.5" font-weight="normal" fill="#1a1a1a" stroke="#1a1a1a" stroke-width="0.14">−2929.17</text>
<text x="483.80" y="350.80" text-anchor="end" font-size="6.5" font-weight="normal" fill="#1a1a1a" stroke="#1a1a1a" stroke-width="0.14">[−3432.37; −2425.97]</text>
<text x="513.50" y="350.80" text-anchor="end" font-size="6.2" font-weight="normal" fill="#1a1a1a" stroke="#1a1a1a" stroke-width="0.14">46.1%</text>
<text x="18.30" y="359.00" text-anchor="start" font-size="6.2" font-weight="normal" fill="#1a1a1a" stroke="#1a1a1a" stroke-width="0.14">Verbrina. set., phase 1/2 (B-AMAZE)</text>
<text x="148.10" y="359.00" text-anchor="end" font-size="6.5" font-weight="normal" fill="#1a1a1a" stroke="#1a1a1a" stroke-width="0.14">10</text>
<text x="172.10" y="359.00" text-anchor="end" font-size="6.5" font-weight="normal" fill="#1a1a1a" stroke="#1a1a1a" stroke-width="0.14">416.10</text>
<text x="206.70" y="359.00" text-anchor="end" font-size="6.5" font-weight="normal" fill="#1a1a1a" stroke="#1a1a1a" stroke-width="0.14">133.7000</text>
<text x="227.10" y="359.00" text-anchor="end" font-size="6.5" font-weight="normal" fill="#1a1a1a" stroke="#1a1a1a" stroke-width="0.14">10</text>
<text x="254.00" y="359.00" text-anchor="end" font-size="6.5" font-weight="normal" fill="#1a1a1a" stroke="#1a1a1a" stroke-width="0.14">2735.27</text>
<text x="289.00" y="359.00" text-anchor="end" font-size="6.5" font-weight="normal" fill="#1a1a1a" stroke="#1a1a1a" stroke-width="0.14">1515.8000</text>
<text x="417.90" y="359.00" text-anchor="end" font-size="6.5" font-weight="normal" fill="#1a1a1a" stroke="#1a1a1a" stroke-width="0.14">−2319.17</text>
<text x="483.80" y="359.00" text-anchor="end" font-size="6.5" font-weight="normal" fill="#1a1a1a" stroke="#1a1a1a" stroke-width="0.14">[−3262.30; −1376.04]</text>
<text x="513.50" y="359.00" text-anchor="end" font-size="6.2" font-weight="normal" fill="#1a1a1a" stroke="#1a1a1a" stroke-width="0.14">17.1%</text>
<text x="18.30" y="367.20" text-anchor="start" font-size="6.2" font-weight="normal" fill="#1a1a1a" stroke="#1a1a1a" stroke-width="0.14">AMT-060, phase 1/2 (cohort 1)</text>
<text x="148.10" y="367.20" text-anchor="end" font-size="6.5" font-weight="normal" fill="#1a1a1a" stroke="#1a1a1a" stroke-width="0.14">5</text>
<text x="172.10" y="367.20" text-anchor="end" font-size="6.5" font-weight="normal" fill="#1a1a1a" stroke="#1a1a1a" stroke-width="0.14">598.70</text>
<text x="206.70" y="367.20" text-anchor="end" font-size="6.5" font-weight="normal" fill="#1a1a1a" stroke="#1a1a1a" stroke-width="0.14">371.3000</text>
<text x="227.10" y="367.20" text-anchor="end" font-size="6.5" font-weight="normal" fill="#1a1a1a" stroke="#1a1a1a" stroke-width="0.14">5</text>
<text x="254.00" y="367.20" text-anchor="end" font-size="6.5" font-weight="normal" fill="#1a1a1a" stroke="#1a1a1a" stroke-width="0.14">3864.28</text>
<text x="289.00" y="367.20" text-anchor="end" font-size="6.5" font-weight="normal" fill="#1a1a1a" stroke="#1a1a1a" stroke-width="0.14">2779.8800</text>
<text x="417.90" y="367.20" text-anchor="end" font-size="6.5" font-weight="normal" fill="#1a1a1a" stroke="#1a1a1a" stroke-width="0.14">−3265.58</text>
<text x="483.80" y="367.20" text-anchor="end" font-size="6.5" font-weight="normal" fill="#1a1a1a" stroke="#1a1a1a" stroke-width="0.14">[−5723.85; −807.31]</text>
<text x="513.50" y="367.20" text-anchor="end" font-size="6.2" font-weight="normal" fill="#1a1a1a" stroke="#1a1a1a" stroke-width="0.14">2.8%</text>
<text x="18.30" y="375.40" text-anchor="start" font-size="6.2" font-weight="normal" fill="#1a1a1a" stroke="#1a1a1a" stroke-width="0.14">AMT-060, phase 1/2 (cohort 2)</text>
<text x="148.10" y="375.40" text-anchor="end" font-size="6.5" font-weight="normal" fill="#1a1a1a" stroke="#1a1a1a" stroke-width="0.14">4</text>
<text x="172.10" y="375.40" text-anchor="end" font-size="6.5" font-weight="normal" fill="#1a1a1a" stroke="#1a1a1a" stroke-width="0.14">204.30</text>
<text x="206.70" y="375.40" text-anchor="end" font-size="6.5" font-weight="normal" fill="#1a1a1a" stroke="#1a1a1a" stroke-width="0.14">201.1000</text>
<text x="227.10" y="375.40" text-anchor="end" font-size="6.5" font-weight="normal" fill="#1a1a1a" stroke="#1a1a1a" stroke-width="0.14">4</text>
<text x="254.00" y="375.40" text-anchor="end" font-size="6.5" font-weight="normal" fill="#1a1a1a" stroke="#1a1a1a" stroke-width="0.14">2783.07</text>
<text x="289.00" y="375.40" text-anchor="end" font-size="6.5" font-weight="normal" fill="#1a1a1a" stroke="#1a1a1a" stroke-width="0.14">1867.5400</text>
<text x="417.90" y="375.40" text-anchor="end" font-size="6.5" font-weight="normal" fill="#1a1a1a" stroke="#1a1a1a" stroke-width="0.14">−2578.77</text>
<text x="483.80" y="375.40" text-anchor="end" font-size="6.5" font-weight="normal" fill="#1a1a1a" stroke="#1a1a1a" stroke-width="0.14">[−4419.51; −738.03]</text>
<text x="513.50" y="375.40" text-anchor="end" font-size="6.2" font-weight="normal" fill="#1a1a1a" stroke="#1a1a1a" stroke-width="0.14">4.9%</text>
<text x="18.30" y="383.60" text-anchor="start" font-size="6.2" font-weight="normal" fill="#1a1a1a" stroke="#1a1a1a" stroke-width="0.14">scAAV2/8-LP1-hFIXco, phase 1</text>
<text x="148.10" y="383.60" text-anchor="end" font-size="6.5" font-weight="normal" fill="#1a1a1a" stroke="#1a1a1a" stroke-width="0.14">10</text>
<text x="172.10" y="383.60" text-anchor="end" font-size="6.5" font-weight="normal" fill="#1a1a1a" stroke="#1a1a1a" stroke-width="0.14">945.00</text>
<text x="206.70" y="383.60" text-anchor="end" font-size="6.5" font-weight="normal" fill="#1a1a1a" stroke="#1a1a1a" stroke-width="0.14">1026.3080</text>
<text x="227.10" y="383.60" text-anchor="end" font-size="6.5" font-weight="normal" fill="#1a1a1a" stroke="#1a1a1a" stroke-width="0.14">10</text>
<text x="254.00" y="383.60" text-anchor="end" font-size="6.5" font-weight="normal" fill="#1a1a1a" stroke="#1a1a1a" stroke-width="0.14">2869.00</text>
<text x="289.00" y="383.60" text-anchor="end" font-size="6.5" font-weight="normal" fill="#1a1a1a" stroke="#1a1a1a" stroke-width="0.14">1283.1500</text>
<text x="417.90" y="383.60" text-anchor="end" font-size="6.5" font-weight="normal" fill="#1a1a1a" stroke="#1a1a1a" stroke-width="0.14">−1924.00</text>
<text x="483.80" y="383.60" text-anchor="end" font-size="6.5" font-weight="normal" fill="#1a1a1a" stroke="#1a1a1a" stroke-width="0.14">[−2942.39; −905.61]</text>
<text x="513.50" y="383.60" text-anchor="end" font-size="6.2" font-weight="normal" fill="#1a1a1a" stroke="#1a1a1a" stroke-width="0.14">15.0%</text>
<text x="18.30" y="399.80" text-anchor="start" font-size="6.5" font-weight="bold" fill="#000" stroke="#000" stroke-width="0.22">Random effects model</text>
<text x="148.10" y="399.80" text-anchor="end" font-size="6.35" font-weight="bold" fill="#000" stroke="#000" stroke-width="0.22">89</text>
<text x="227.10" y="399.80" text-anchor="end" font-size="6.35" font-weight="bold" fill="#000" stroke="#000" stroke-width="0.22">89</text>
<text x="417.90" y="399.80" text-anchor="end" font-size="6.35" font-weight="bold" fill="#000" stroke="#000" stroke-width="0.22">−2656.52</text>
<text x="483.80" y="399.80" text-anchor="end" font-size="6.35" font-weight="bold" fill="#000" stroke="#000" stroke-width="0.22">[−3073.24; −2239.79]</text>
<text x="513.50" y="399.80" text-anchor="end" font-size="6.35" font-weight="bold" fill="#000" stroke="#000" stroke-width="0.22">100.0%</text>
<text x="18.30" y="408.20" font-size="6.3" fill="#1a1a1a" stroke="#1a1a1a" stroke-width="0.14">Heterogeneity:</text>
<text x="60.80" y="408.20" font-size="6.3" fill="#1a1a1a" stroke="#1a1a1a" stroke-width="0.14" font-style="italic">I</text>
<text x="63.00" y="405.70" font-size="4.3" fill="#1a1a1a" stroke="#1a1a1a" stroke-width="0.14">2</text>
<text x="66.50" y="408.20" font-size="6.3" fill="#1a1a1a" stroke="#1a1a1a" stroke-width="0.14">=</text>
<text x="72.20" y="408.20" font-size="6.55" fill="#1a1a1a" stroke="#1a1a1a" stroke-width="0.14">0%,</text>
<text x="83.60" y="408.20" font-size="6.3" fill="#1a1a1a" stroke="#1a1a1a" stroke-width="0.14">τ</text>
<text x="87.00" y="405.70" font-size="4.3" fill="#1a1a1a" stroke="#1a1a1a" stroke-width="0.14">2</text>
<text x="91.30" y="408.20" font-size="6.3" fill="#1a1a1a" stroke="#1a1a1a" stroke-width="0.14">=</text>
<text x="97.00" y="408.20" font-size="6.55" fill="#1a1a1a" stroke="#1a1a1a" stroke-width="0.14">32245.2562,</text>
<text x="137.80" y="408.20" font-size="6.3" fill="#1a1a1a" stroke="#1a1a1a" stroke-width="0.14" font-style="italic">P</text>
<text x="143.00" y="408.20" font-size="6.3" fill="#1a1a1a" stroke="#1a1a1a" stroke-width="0.14">=</text>
<text x="148.20" y="408.20" font-size="6.55" fill="#1a1a1a" stroke="#1a1a1a" stroke-width="0.14">.56</text>
<line x1="340.30" y1="336.30" x2="340.30" y2="401.00" stroke="#111" stroke-width="1.0"/>
<line x1="317.88" y1="331.50" x2="317.88" y2="395.00" stroke="#8a8a8a" stroke-width="0.9" stroke-dasharray="1 1.15"/>
<rect x="314.59" y="338.82" width="3.16" height="3.16" fill="#dedede" stroke="#b4b4b4" stroke-width="0.6"/>
<line x1="307.29" y1="340.40" x2="325.06" y2="340.40" stroke="#1a1a1a" stroke-width="1.0"/>
<polygon points="315.07,340.40 316.17,339.40 317.27,340.40 316.17,341.40" fill="#000" stroke="#000" stroke-width="0.2"/>
<rect x="312.48" y="345.35" width="6.20" height="6.20" fill="#dedede" stroke="#b4b4b4" stroke-width="0.6"/>
<line x1="311.33" y1="348.45" x2="319.82" y2="348.45" stroke="#1a1a1a" stroke-width="1.0"/>
<polygon points="314.48,348.45 315.58,347.45 316.68,348.45 315.58,349.45" fill="#000" stroke="#000" stroke-width="0.2"/>
<rect x="318.96" y="354.73" width="3.54" height="3.54" fill="#dedede" stroke="#b4b4b4" stroke-width="0.6"/>
<line x1="312.77" y1="356.50" x2="328.69" y2="356.50" stroke="#1a1a1a" stroke-width="1.0"/>
<polygon points="319.63,356.50 320.73,355.50 321.83,356.50 320.73,357.50" fill="#000" stroke="#000" stroke-width="0.2"/>
<rect x="312.20" y="364.01" width="1.08" height="1.08" fill="#dedede" stroke="#b4b4b4" stroke-width="0.6"/>
<line x1="291.99" y1="364.55" x2="333.49" y2="364.55" stroke="#1a1a1a" stroke-width="1.0"/>
<polygon points="311.64,364.55 312.74,363.55 313.84,364.55 312.74,365.55" fill="#000" stroke="#000" stroke-width="0.2"/>
<rect x="317.73" y="371.79" width="1.62" height="1.62" fill="#dedede" stroke="#b4b4b4" stroke-width="0.6"/>
<line x1="303.00" y1="372.60" x2="334.07" y2="372.60" stroke="#1a1a1a" stroke-width="1.0"/>
<polygon points="317.44,372.60 318.54,371.60 319.64,372.60 318.54,373.60" fill="#000" stroke="#000" stroke-width="0.2"/>
<rect x="322.42" y="379.01" width="3.28" height="3.28" fill="#dedede" stroke="#b4b4b4" stroke-width="0.6"/>
<line x1="315.47" y1="380.65" x2="332.66" y2="380.65" stroke="#1a1a1a" stroke-width="1.0"/>
<polygon points="322.96,380.65 324.06,379.65 325.16,380.65 324.06,381.65" fill="#000" stroke="#000" stroke-width="0.2"/>
<polygon points="313.86,397.00 317.88,395.00 321.90,397.00 317.88,399.00" fill="#d0d0d0" stroke="#333" stroke-width="0.8"/>
<line x1="304.00" y1="401.00" x2="376.30" y2="401.00" stroke="#111" stroke-width="1.0"/>
<line x1="306.54" y1="401.00" x2="306.54" y2="403.80" stroke="#111" stroke-width="0.8"/>
<text x="306.54" y="412.30" text-anchor="middle" font-size="6.2" font-weight="normal" fill="#1a1a1a" stroke="#1a1a1a" stroke-width="0.14">−4000</text>
<line x1="323.42" y1="401.00" x2="323.42" y2="403.80" stroke="#111" stroke-width="0.8"/>
<line x1="340.30" y1="401.00" x2="340.30" y2="403.80" stroke="#111" stroke-width="0.8"/>
<text x="340.30" y="412.30" text-anchor="middle" font-size="6.2" font-weight="normal" fill="#1a1a1a" stroke="#1a1a1a" stroke-width="0.14">0</text>
<line x1="357.18" y1="401.00" x2="357.18" y2="403.80" stroke="#111" stroke-width="0.8"/>
<text x="357.18" y="412.30" text-anchor="middle" font-size="6.2" font-weight="normal" fill="#1a1a1a" stroke="#1a1a1a" stroke-width="0.14">2000</text>
<line x1="374.06" y1="401.00" x2="374.06" y2="403.80" stroke="#111" stroke-width="0.8"/>
<text x="374.06" y="412.30" text-anchor="middle" font-size="6.2" font-weight="normal" fill="#1a1a1a" stroke="#1a1a1a" stroke-width="0.14">4000</text>
<text x="6.80" y="433.80" text-anchor="start" font-size="11.4" font-weight="bold" fill="#000" stroke="#000" stroke-width="0.35">D</text>
<text x="18.50" y="453.80" text-anchor="start" font-size="6.5" font-weight="bold" fill="#000" stroke="#000" stroke-width="0.22">Study</text>
<text x="155.20" y="453.80" text-anchor="end" font-size="6.5" font-weight="bold" fill="#000" stroke="#000" stroke-width="0.22">Total</text>
<text x="181.20" y="453.80" text-anchor="end" font-size="6.5" font-weight="bold" fill="#000" stroke="#000" stroke-width="0.22">Mean</text>
<text x="214.80" y="453.80" text-anchor="end" font-size="6.5" font-weight="bold" fill="#000" stroke="#000" stroke-width="0.22">SD</text>
<text x="279.00" y="453.80" text-anchor="middle" font-size="6.5" font-weight="bold" fill="#000" stroke="#000" stroke-width="0.22">Mean</text>
<text x="367.00" y="453.80" text-anchor="end" font-size="6.5" font-weight="bold" fill="#000" stroke="#000" stroke-width="0.22">MRAW</text>
<text x="425.90" y="453.80" text-anchor="end" font-size="6.5" font-weight="bold" fill="#000" stroke="#000" stroke-width="0.22">95%-CI</text>
<text x="471.40" y="445.60" text-anchor="end" font-size="6.5" font-weight="bold" fill="#000" stroke="#000" stroke-width="0.22">Weight</text>
<text x="471.40" y="453.60" text-anchor="end" font-size="6.5" font-weight="bold" fill="#000" stroke="#000" stroke-width="0.22">(common)</text>
<text x="513.60" y="445.60" text-anchor="end" font-size="6.5" font-weight="bold" fill="#000" stroke="#000" stroke-width="0.22">Weight</text>
<text x="513.60" y="453.60" text-anchor="end" font-size="6.5" font-weight="bold" fill="#000" stroke="#000" stroke-width="0.22">(random)</text>
<text x="18.30" y="474.00" text-anchor="start" font-size="6.2" font-weight="normal" fill="#1a1a1a" stroke="#1a1a1a" stroke-width="0.14">Fidanaco. ela., phase 1/2</text>
<text x="155.20" y="474.00" text-anchor="end" font-size="6.5" font-weight="normal" fill="#1a1a1a" stroke="#1a1a1a" stroke-width="0.14">15</text>
<text x="181.20" y="474.00" text-anchor="end" font-size="6.5" font-weight="normal" fill="#1a1a1a" stroke="#1a1a1a" stroke-width="0.14">22.90</text>
<text x="214.80" y="474.00" text-anchor="end" font-size="6.5" font-weight="normal" fill="#1a1a1a" stroke="#1a1a1a" stroke-width="0.14">9.9000</text>
<text x="367.00" y="474.00" text-anchor="end" font-size="6.5" font-weight="normal" fill="#1a1a1a" stroke="#1a1a1a" stroke-width="0.14">22.90</text>
<text x="425.90" y="474.00" text-anchor="end" font-size="6.5" font-weight="normal" fill="#1a1a1a" stroke="#1a1a1a" stroke-width="0.14">[17.89; 27.91]</text>
<text x="471.40" y="474.00" text-anchor="end" font-size="6.2" font-weight="normal" fill="#1a1a1a" stroke="#1a1a1a" stroke-width="0.14">38.0%</text>
<text x="513.60" y="474.00" text-anchor="end" font-size="6.2" font-weight="normal" fill="#1a1a1a" stroke="#1a1a1a" stroke-width="0.14">22.9%</text>
<text x="18.30" y="484.00" text-anchor="start" font-size="6.2" font-weight="normal" fill="#1a1a1a" stroke="#1a1a1a" stroke-width="0.14">Fidanaco. ela., phase 3</text>
<text x="155.20" y="484.00" text-anchor="end" font-size="6.5" font-weight="normal" fill="#1a1a1a" stroke="#1a1a1a" stroke-width="0.14">45</text>
<text x="181.20" y="484.00" text-anchor="end" font-size="6.5" font-weight="normal" fill="#1a1a1a" stroke="#1a1a1a" stroke-width="0.14">25.50</text>
<text x="214.80" y="484.00" text-anchor="end" font-size="6.5" font-weight="normal" fill="#1a1a1a" stroke="#1a1a1a" stroke-width="0.14">21.8800</text>
<text x="367.00" y="484.00" text-anchor="end" font-size="6.5" font-weight="normal" fill="#1a1a1a" stroke="#1a1a1a" stroke-width="0.14">25.50</text>
<text x="425.90" y="484.00" text-anchor="end" font-size="6.5" font-weight="normal" fill="#1a1a1a" stroke="#1a1a1a" stroke-width="0.14">[19.11; 31.89]</text>
<text x="471.40" y="484.00" text-anchor="end" font-size="6.2" font-weight="normal" fill="#1a1a1a" stroke="#1a1a1a" stroke-width="0.14">23.3%</text>
<text x="513.60" y="484.00" text-anchor="end" font-size="6.2" font-weight="normal" fill="#1a1a1a" stroke="#1a1a1a" stroke-width="0.14">22.1%</text>
<text x="18.30" y="494.00" text-anchor="start" font-size="6.2" font-weight="normal" fill="#1a1a1a" stroke="#1a1a1a" stroke-width="0.14">AMT-060, phase 1/2 (cohort 1)</text>
<text x="155.20" y="494.00" text-anchor="end" font-size="6.5" font-weight="normal" fill="#1a1a1a" stroke="#1a1a1a" stroke-width="0.14">5</text>
<text x="181.20" y="494.00" text-anchor="end" font-size="6.5" font-weight="normal" fill="#1a1a1a" stroke="#1a1a1a" stroke-width="0.14">4.40</text>
<text x="214.80" y="494.00" text-anchor="end" font-size="6.5" font-weight="normal" fill="#1a1a1a" stroke="#1a1a1a" stroke-width="0.14">35.8100</text>
<text x="367.00" y="494.00" text-anchor="end" font-size="6.5" font-weight="normal" fill="#1a1a1a" stroke="#1a1a1a" stroke-width="0.14">4.40</text>
<text x="425.90" y="494.00" text-anchor="end" font-size="6.5" font-weight="normal" fill="#1a1a1a" stroke="#1a1a1a" stroke-width="0.14">[−26.99; 35.79]</text>
<text x="471.40" y="494.00" text-anchor="end" font-size="6.2" font-weight="normal" fill="#1a1a1a" stroke="#1a1a1a" stroke-width="0.14">1.0%</text>
<text x="513.60" y="494.00" text-anchor="end" font-size="6.2" font-weight="normal" fill="#1a1a1a" stroke="#1a1a1a" stroke-width="0.14">7.1%</text>
<text x="18.30" y="504.00" text-anchor="start" font-size="6.2" font-weight="normal" fill="#1a1a1a" stroke="#1a1a1a" stroke-width="0.14">AMT-060, phase 1/2 (cohort 2)</text>
<text x="155.20" y="504.00" text-anchor="end" font-size="6.5" font-weight="normal" fill="#1a1a1a" stroke="#1a1a1a" stroke-width="0.14">4</text>
<text x="181.20" y="504.00" text-anchor="end" font-size="6.5" font-weight="normal" fill="#1a1a1a" stroke="#1a1a1a" stroke-width="0.14">7.40</text>
<text x="214.80" y="504.00" text-anchor="end" font-size="6.5" font-weight="normal" fill="#1a1a1a" stroke="#1a1a1a" stroke-width="0.14">33.9900</text>
<text x="367.00" y="504.00" text-anchor="end" font-size="6.5" font-weight="normal" fill="#1a1a1a" stroke="#1a1a1a" stroke-width="0.14">7.40</text>
<text x="425.90" y="504.00" text-anchor="end" font-size="6.5" font-weight="normal" fill="#1a1a1a" stroke="#1a1a1a" stroke-width="0.14">[−25.91; 40.71]</text>
<text x="471.40" y="504.00" text-anchor="end" font-size="6.2" font-weight="normal" fill="#1a1a1a" stroke="#1a1a1a" stroke-width="0.14">0.9%</text>
<text x="513.60" y="504.00" text-anchor="end" font-size="6.2" font-weight="normal" fill="#1a1a1a" stroke="#1a1a1a" stroke-width="0.14">6.5%</text>
<text x="18.30" y="514.00" text-anchor="start" font-size="6.2" font-weight="normal" fill="#1a1a1a" stroke="#1a1a1a" stroke-width="0.14">Etranaco. dez., phase 2b</text>
<text x="155.20" y="514.00" text-anchor="end" font-size="6.5" font-weight="normal" fill="#1a1a1a" stroke="#1a1a1a" stroke-width="0.14">3</text>
<text x="181.20" y="514.00" text-anchor="end" font-size="6.5" font-weight="normal" fill="#1a1a1a" stroke="#1a1a1a" stroke-width="0.14">40.80</text>
<text x="214.80" y="514.00" text-anchor="end" font-size="6.5" font-weight="normal" fill="#1a1a1a" stroke="#1a1a1a" stroke-width="0.14">9.4500</text>
<text x="367.00" y="514.00" text-anchor="end" font-size="6.5" font-weight="normal" fill="#1a1a1a" stroke="#1a1a1a" stroke-width="0.14">40.80</text>
<text x="425.90" y="514.00" text-anchor="end" font-size="6.5" font-weight="normal" fill="#1a1a1a" stroke="#1a1a1a" stroke-width="0.14">[30.11; 51.49]</text>
<text x="471.40" y="514.00" text-anchor="end" font-size="6.2" font-weight="normal" fill="#1a1a1a" stroke="#1a1a1a" stroke-width="0.14">8.3%</text>
<text x="513.60" y="514.00" text-anchor="end" font-size="6.2" font-weight="normal" fill="#1a1a1a" stroke="#1a1a1a" stroke-width="0.14">19.0%</text>
<text x="18.30" y="524.00" text-anchor="start" font-size="6.2" font-weight="normal" fill="#1a1a1a" stroke="#1a1a1a" stroke-width="0.14">Etranaco. dez., phase 3</text>
<text x="155.20" y="524.00" text-anchor="end" font-size="6.5" font-weight="normal" fill="#1a1a1a" stroke="#1a1a1a" stroke-width="0.14">54</text>
<text x="181.20" y="524.00" text-anchor="end" font-size="6.5" font-weight="normal" fill="#1a1a1a" stroke="#1a1a1a" stroke-width="0.14">41.50</text>
<text x="214.80" y="524.00" text-anchor="end" font-size="6.5" font-weight="normal" fill="#1a1a1a" stroke="#1a1a1a" stroke-width="0.14">21.7000</text>
<text x="367.00" y="524.00" text-anchor="end" font-size="6.5" font-weight="normal" fill="#1a1a1a" stroke="#1a1a1a" stroke-width="0.14">41.50</text>
<text x="425.90" y="524.00" text-anchor="end" font-size="6.5" font-weight="normal" fill="#1a1a1a" stroke="#1a1a1a" stroke-width="0.14">[35.71; 47.29]</text>
<text x="471.40" y="524.00" text-anchor="end" font-size="6.2" font-weight="normal" fill="#1a1a1a" stroke="#1a1a1a" stroke-width="0.14">28.5%</text>
<text x="513.60" y="524.00" text-anchor="end" font-size="6.2" font-weight="normal" fill="#1a1a1a" stroke="#1a1a1a" stroke-width="0.14">22.4%</text>
<text x="18.30" y="544.00" text-anchor="start" font-size="6.5" font-weight="bold" fill="#000" stroke="#000" stroke-width="0.22">Common effect model</text>
<text x="155.20" y="544.00" text-anchor="end" font-size="6.35" font-weight="bold" fill="#000" stroke="#000" stroke-width="0.22">126</text>
<text x="367.00" y="544.00" text-anchor="end" font-size="6.35" font-weight="bold" fill="#000" stroke="#000" stroke-width="0.22">29.98</text>
<text x="425.90" y="544.00" text-anchor="end" font-size="6.35" font-weight="bold" fill="#000" stroke="#000" stroke-width="0.22">[26.90; 33.07]</text>
<text x="471.40" y="544.00" text-anchor="end" font-size="6.35" font-weight="bold" fill="#000" stroke="#000" stroke-width="0.22">100.0%</text>
<rect x="509.20" y="541.20" width="1.6" height="1.5" fill="#333"/>
<rect x="511.80" y="541.20" width="1.6" height="1.5" fill="#333"/>
<text x="18.30" y="554.00" text-anchor="start" font-size="6.5" font-weight="bold" fill="#000" stroke="#000" stroke-width="0.22">Random effects model</text>
<text x="367.00" y="554.00" text-anchor="end" font-size="6.35" font-weight="bold" fill="#000" stroke="#000" stroke-width="0.22">28.72</text>
<text x="425.90" y="554.00" text-anchor="end" font-size="6.35" font-weight="bold" fill="#000" stroke="#000" stroke-width="0.22">[18.78; 38.66]</text>
<rect x="467.00" y="551.20" width="1.6" height="1.5" fill="#333"/>
<rect x="469.60" y="551.20" width="1.6" height="1.5" fill="#333"/>
<text x="513.60" y="554.00" text-anchor="end" font-size="6.35" font-weight="bold" fill="#000" stroke="#000" stroke-width="0.22">100.0%</text>
<text x="18.30" y="564.80" font-size="6.3" fill="#1a1a1a" stroke="#1a1a1a" stroke-width="0.14">Heterogeneity:</text>
<text x="60.30" y="564.80" font-size="6.3" fill="#1a1a1a" stroke="#1a1a1a" stroke-width="0.14" font-style="italic">I</text>
<text x="62.50" y="562.30" font-size="4.3" fill="#1a1a1a" stroke="#1a1a1a" stroke-width="0.14">2</text>
<text x="66.10" y="564.80" font-size="6.3" fill="#1a1a1a" stroke="#1a1a1a" stroke-width="0.14">=</text>
<text x="72.50" y="564.80" font-size="6.55" fill="#1a1a1a" stroke="#1a1a1a" stroke-width="0.14">85%,</text>
<text x="88.40" y="564.80" font-size="6.3" fill="#1a1a1a" stroke="#1a1a1a" stroke-width="0.14">τ</text>
<text x="91.70" y="562.30" font-size="4.3" fill="#1a1a1a" stroke="#1a1a1a" stroke-width="0.14">2</text>
<text x="96.10" y="564.80" font-size="6.3" fill="#1a1a1a" stroke="#1a1a1a" stroke-width="0.14">=</text>
<text x="101.90" y="564.80" font-size="6.55" fill="#1a1a1a" stroke="#1a1a1a" stroke-width="0.14">105.9455,</text>
<text x="133.20" y="564.80" font-size="6.3" fill="#1a1a1a" stroke="#1a1a1a" stroke-width="0.14" font-style="italic">P</text>
<text x="138.90" y="564.80" font-size="6.3" fill="#1a1a1a" stroke="#1a1a1a" stroke-width="0.14">&lt;</text>
<text x="144.10" y="564.80" font-size="6.55" fill="#1a1a1a" stroke="#1a1a1a" stroke-width="0.14">.01</text>
<line x1="304.04" y1="466.00" x2="304.04" y2="549.20" stroke="#8a8a8a" stroke-width="0.9" stroke-dasharray="1 1.15"/>
<line x1="305.93" y1="466.00" x2="305.93" y2="539.20" stroke="#4a4a4a" stroke-width="1.25" stroke-dasharray="2.2 2.0"/>
<rect x="291.47" y="467.30" width="7.70" height="7.70" fill="#dedede" stroke="#b4b4b4" stroke-width="0.6"/>
<line x1="287.81" y1="471.15" x2="302.82" y2="471.15" stroke="#1a1a1a" stroke-width="1.0"/>
<polygon points="294.22,471.15 295.32,470.15 296.42,471.15 295.32,472.15" fill="#000" stroke="#000" stroke-width="0.2"/>
<rect x="296.26" y="478.20" width="5.90" height="5.90" fill="#dedede" stroke="#b4b4b4" stroke-width="0.6"/>
<line x1="289.64" y1="481.15" x2="308.79" y2="481.15" stroke="#1a1a1a" stroke-width="1.0"/>
<polygon points="298.11,481.15 299.21,480.15 300.31,481.15 299.21,482.15" fill="#000" stroke="#000" stroke-width="0.2"/>
<rect x="267.22" y="490.78" width="0.75" height="0.75" fill="#dedede" stroke="#b4b4b4" stroke-width="0.6"/>
<line x1="220.56" y1="491.15" x2="314.63" y2="491.15" stroke="#1a1a1a" stroke-width="1.0"/>
<polygon points="266.49,491.15 267.59,490.15 268.69,491.15 267.59,492.15" fill="#000" stroke="#000" stroke-width="0.2"/>
<rect x="271.75" y="500.81" width="0.68" height="0.68" fill="#dedede" stroke="#b4b4b4" stroke-width="0.6"/>
<line x1="222.17" y1="501.15" x2="322.00" y2="501.15" stroke="#1a1a1a" stroke-width="1.0"/>
<polygon points="270.99,501.15 272.09,500.15 273.19,501.15 272.09,502.15" fill="#000" stroke="#000" stroke-width="0.2"/>
<rect x="320.50" y="509.51" width="3.28" height="3.28" fill="#dedede" stroke="#b4b4b4" stroke-width="0.6"/>
<line x1="306.12" y1="511.15" x2="338.16" y2="511.15" stroke="#1a1a1a" stroke-width="1.0"/>
<polygon points="321.04,511.15 322.14,510.15 323.24,511.15 322.14,512.15" fill="#000" stroke="#000" stroke-width="0.2"/>
<rect x="319.89" y="517.86" width="6.59" height="6.59" fill="#dedede" stroke="#b4b4b4" stroke-width="0.6"/>
<line x1="314.51" y1="521.15" x2="331.86" y2="521.15" stroke="#1a1a1a" stroke-width="1.0"/>
<polygon points="322.09,521.15 323.19,520.15 324.29,521.15 323.19,522.15" fill="#000" stroke="#000" stroke-width="0.2"/>
<polygon points="300.81,541.00 305.93,538.70 311.06,541.00 305.93,543.30" fill="#d0d0d0" stroke="#333" stroke-width="0.8"/>
<polygon points="288.64,551.20 304.04,548.90 319.43,551.20 304.04,553.50" fill="#d0d0d0" stroke="#333" stroke-width="0.8"/>
<line x1="228.00" y1="555.70" x2="323.70" y2="555.70" stroke="#111" stroke-width="1.0"/>
<line x1="231.03" y1="555.70" x2="231.03" y2="558.50" stroke="#111" stroke-width="0.8"/>
<text x="231.03" y="567.20" text-anchor="middle" font-size="6.2" font-weight="normal" fill="#1a1a1a" stroke="#1a1a1a" stroke-width="0.14">−20</text>
<line x1="261.00" y1="555.70" x2="261.00" y2="558.50" stroke="#111" stroke-width="0.8"/>
<text x="261.00" y="567.20" text-anchor="middle" font-size="6.2" font-weight="normal" fill="#1a1a1a" stroke="#1a1a1a" stroke-width="0.14">0</text>
<line x1="290.97" y1="555.70" x2="290.97" y2="558.50" stroke="#111" stroke-width="0.8"/>
<text x="290.97" y="567.20" text-anchor="middle" font-size="6.2" font-weight="normal" fill="#1a1a1a" stroke="#1a1a1a" stroke-width="0.14">20</text>
<line x1="320.94" y1="555.70" x2="320.94" y2="558.50" stroke="#111" stroke-width="0.8"/>
<text x="320.94" y="567.20" text-anchor="middle" font-size="6.2" font-weight="normal" fill="#1a1a1a" stroke="#1a1a1a" stroke-width="0.14">40</text>
</svg>
</body></html>
